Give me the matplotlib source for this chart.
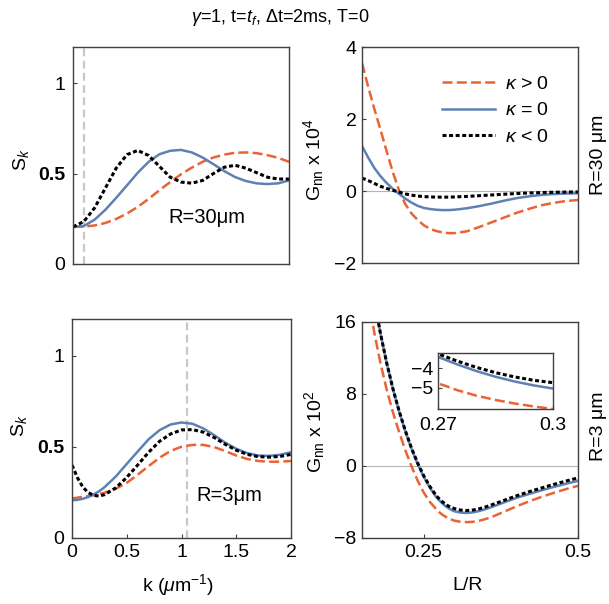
import matplotlib
matplotlib.use('Agg')
import matplotlib.pyplot as plt
import numpy as np

plt.rcParams['font.family'] = ['Liberation Sans', 'DejaVu Sans']
plt.rcParams['mathtext.fontset'] = 'custom'
plt.rcParams['mathtext.rm'] = 'Liberation Sans'
plt.rcParams['mathtext.it'] = 'Liberation Sans:italic'
plt.rcParams['mathtext.bf'] = 'Liberation Sans:bold'

# ---------------- data ----------------
# S_k, R = 30 um
k_top = [0.0, 0.1, 0.2, 0.3, 0.4, 0.5, 0.6, 0.7, 0.8, 0.9, 1.0,
         1.1, 1.2, 1.3, 1.4, 1.5, 1.6, 1.7, 1.8, 1.9, 2.0]
sk30_pos = [0.205, 0.207, 0.213, 0.227, 0.249, 0.279, 0.316, 0.36, 0.408, 0.453, 0.496,
            0.533, 0.565, 0.589, 0.605, 0.615, 0.617, 0.613, 0.602, 0.587, 0.565]
sk30_zero = [0.205, 0.21, 0.245, 0.30, 0.366, 0.435, 0.505, 0.565, 0.607, 0.626, 0.631,
             0.617, 0.589, 0.552, 0.514, 0.481, 0.459, 0.446, 0.442, 0.446, 0.462]
sk30_neg = [0.205, 0.235, 0.31, 0.42, 0.53, 0.605, 0.628, 0.60, 0.54, 0.48, 0.453,
            0.447, 0.462, 0.50, 0.535, 0.546, 0.53, 0.505, 0.48, 0.47, 0.47]

# S_k, R = 3 um
k_bot = [0.0, 0.05, 0.1, 0.15, 0.2, 0.25, 0.3, 0.4, 0.5, 0.6, 0.7, 0.8, 0.9, 1.0,
         1.1, 1.2, 1.3, 1.4, 1.5, 1.6, 1.7, 1.8, 1.9, 2.0]
sk3_pos = [0.217, 0.221, 0.226, 0.23, 0.235, 0.241, 0.248, 0.27, 0.302, 0.347, 0.394, 0.44, 0.477, 0.5,
           0.51, 0.51, 0.498, 0.476, 0.452, 0.433, 0.422, 0.418, 0.418, 0.422]
sk3_zero = [0.207, 0.209, 0.215, 0.225, 0.239, 0.257, 0.28, 0.337, 0.406, 0.474, 0.541, 0.591, 0.622, 0.633,
            0.626, 0.6, 0.563, 0.522, 0.489, 0.465, 0.452, 0.450, 0.456, 0.47]
sk3_neg = [0.40, 0.33, 0.278, 0.248, 0.233, 0.23, 0.238, 0.275, 0.332, 0.40, 0.47, 0.53, 0.57, 0.592,
           0.594, 0.58, 0.55, 0.513, 0.481, 0.458, 0.446, 0.443, 0.447, 0.458]

# G_nn x 10^4, R = 30 um
L_top = [0.15, 0.16, 0.17, 0.18, 0.19, 0.20, 0.21, 0.22, 0.23, 0.24, 0.25, 0.26, 0.27,
         0.28, 0.29, 0.30, 0.32, 0.34, 0.36, 0.38, 0.40, 0.42, 0.44, 0.46, 0.48, 0.50]
g30_pos = [3.55, 2.9, 2.28, 1.7, 1.1, 0.52, 0.02, -0.36, -0.62, -0.8, -0.95, -1.05, -1.11,
           -1.15, -1.17, -1.17, -1.12, -1.0, -0.87, -0.74, -0.61, -0.5, -0.4, -0.33, -0.28, -0.25]
g30_zero = [1.25, 0.93, 0.64, 0.41, 0.22, 0.06, -0.08, -0.21, -0.32, -0.41, -0.47, -0.5, -0.52,
            -0.53, -0.53, -0.52, -0.48, -0.42, -0.35, -0.27, -0.2, -0.15, -0.11, -0.085, -0.07, -0.065]
g30_neg = [0.36, 0.29, 0.21, 0.13, 0.07, 0.02, -0.03, -0.08, -0.115, -0.14, -0.155, -0.165, -0.17,
           -0.17, -0.17, -0.165, -0.15, -0.13, -0.11, -0.09, -0.07, -0.055, -0.045, -0.035, -0.03, -0.025]

# G_nn x 10^2, R = 3 um
L_bot = [0.15, 0.16, 0.17, 0.18, 0.19, 0.20, 0.21, 0.22, 0.23, 0.24, 0.25, 0.26, 0.27,
         0.275, 0.28, 0.285, 0.29, 0.295, 0.30, 0.31, 0.32, 0.33, 0.34, 0.35, 0.36,
         0.38, 0.40, 0.42, 0.44, 0.46, 0.48, 0.50]
g3_pos = [23.4, 18.8, 14.8, 11.4, 8.5, 6.0, 3.8, 1.8, 0.0, -1.6, -2.95, -4.0, -4.77,
          -5.12, -5.4, -5.62, -5.8, -5.95, -6.08, -6.2, -6.24, -6.2, -6.08, -5.9, -5.68,
          -5.08, -4.5, -3.95, -3.45, -3.0, -2.58, -2.2]
g3_zero = [27.4, 22.6, 18.4, 14.7, 11.45, 8.6, 6.1, 3.9, 1.95, 0.25, -1.2, -2.42, -3.43,
           -3.81, -4.15, -4.44, -4.68, -4.88, -5.04, -5.18, -5.22, -5.15, -5.0, -4.8, -4.56,
           -4.05, -3.55, -3.12, -2.72, -2.34, -1.98, -1.65]
g3_neg = [27.4, 22.6, 18.4, 14.7, 11.45, 8.62, 6.14, 3.96, 2.03, 0.35, -1.08, -2.28, -3.27,
          -3.64, -3.96, -4.23, -4.45, -4.62, -4.74, -4.9, -4.95, -4.89, -4.75, -4.55, -4.32,
          -3.82, -3.32, -2.87, -2.46, -2.06, -1.68, -1.32]

labels = [r'$\kappa$ > 0', r'$\kappa$ = 0', r'$\kappa$ < 0']
kline_top = np.pi / 30
kline_bot = np.pi / 3

# ---------------- style ----------------
RED = '#EB6235'
BLUE = '#5E81B5'
SPINE = '#404040'
styles = [dict(color=RED, lw=1.8, ls=(0, (4, 1.7))),
          dict(color=BLUE, lw=1.8, ls='-'),
          dict(color='black', lw=2.2, ls=(0, (1.3, 0.85)))]
FS = 14

fig = plt.figure(figsize=(6.09, 6.04), dpi=100)
W, H = 609.0, 604.0


def add_ax(x0, y0, x1, y1):
    return fig.add_axes([x0 / W, 1 - y1 / H, (x1 - x0) / W, (y1 - y0) / H])


def style_ax(ax, pad):
    for s in ax.spines.values():
        s.set_color(SPINE)
        s.set_linewidth(1.0)
    ax.tick_params(direction='in', length=3, width=0.8, color=SPINE,
                   labelsize=FS, pad=pad, top=False, right=False)


ax_tl = add_ax(73, 47, 289, 264)
ax_tr = add_ax(362, 47, 578, 263)
ax_bl = add_ax(72, 319, 291, 538)
ax_br = add_ax(362, 322, 578, 538)

# --- S_k panels ---
for ax, kk, ys, kl in [(ax_tl, k_top, [sk30_pos, sk30_zero, sk30_neg], kline_top),
                       (ax_bl, k_bot, [sk3_pos, sk3_zero, sk3_neg], kline_bot)]:
    ax.axvline(kl, color='#c8c8c8', lw=1.6, ls=(0, (3.5, 2)), zorder=1)
    for y, st in zip(ys, styles):
        ax.plot(kk, y, zorder=2, **st)
    ax.set_xlim(0, 2)
    ax.set_ylim(0, 1.2)
    ax.set_yticks([0, 0.5, 1], ['0', '0.5', '1'])
    ax.get_yticklabels()[1].set_fontweight('bold')
    style_ax(ax, 5.5)

ax_tl.set_xticks([])
ax_bl.set_xticks([0, 0.5, 1, 1.5, 2], ['0', '0.5', '1', '1.5', '2'])
ax_bl.tick_params(axis='x', pad=4)

ax_tl.set_ylabel(r'$\mathrm{S}_k$', fontsize=FS, va='center')
ax_tl.yaxis.set_label_coords(-0.241, 0.479)
ax_bl.set_ylabel(r'$\mathrm{S}_k$', fontsize=FS, va='center')
ax_bl.yaxis.set_label_coords(-0.242, 0.514)
ax_bl.set_xlabel(r'k ($\mu$m$^{-1}$)', fontsize=FS, va='center')
ax_bl.xaxis.set_label_coords(0.484, -0.215)

ax_tl.text(1.24, 0.256, 'R=30μm', fontsize=FS + 0.5, ha='center', va='center')
ax_bl.text(1.44, 0.233, 'R=3μm', fontsize=FS + 0.5, ha='center', va='center')

# --- G_nn panels ---
handles = []
for y, st in zip([g30_pos, g30_zero, g30_neg], styles):
    h, = ax_tr.plot(L_top, y, zorder=2, **st)
    handles.append(h)
for y, st in zip([g3_pos, g3_zero, g3_neg], styles):
    ax_br.plot(L_bot, y, zorder=2, **st)

for ax in (ax_tr, ax_br):
    ax.axhline(0, color='#b4b4b4', lw=0.8, zorder=1)
    ax.set_xlim(0.15, 0.5)
    style_ax(ax, 4)

ax_tr.set_ylim(-2, 4)
ax_tr.set_yticks([-2, 0, 2, 4], ['\u22122', '0', '2', '4'])
ax_tr.set_xticks([])
ax_br.set_ylim(-8, 16)
ax_br.set_yticks([-8, 0, 8, 16], ['\u22128', '0', '8', '16'])
ax_br.set_xticks([0.25, 0.5], ['0.25', '0.5'])
ax_br.tick_params(axis='x', pad=4)

ax_tr.set_ylabel(r'$\mathrm{G_{nn}}$ x 10$^4$', fontsize=FS, va='center')
ax_tr.yaxis.set_label_coords(-0.222, 0.479)
ax_br.set_ylabel(r'$\mathrm{G_{nn}}$ x 10$^2$', fontsize=FS, va='center')
ax_br.yaxis.set_label_coords(-0.218, 0.493)
ax_br.set_xlabel('L/R', fontsize=FS, va='center')
ax_br.xaxis.set_label_coords(0.491, -0.218)

ax_tr.text(1.093, 0.502, 'R=30 μm', rotation=90, fontsize=FS, ha='center', va='center',
           transform=ax_tr.transAxes)
ax_br.text(1.093, 0.516, 'R=3 μm', rotation=90, fontsize=FS, ha='center', va='center',
           transform=ax_br.transAxes)

ax_tr.legend(handles, labels, loc='upper left', bbox_to_anchor=(0.37, 0.868),
             frameon=False, fontsize=FS, handlelength=2.75, handletextpad=0.5,
             labelspacing=0.45, borderpad=0, borderaxespad=0)

# --- inset ---
ax_in = add_ax(438, 353, 553, 409)
for y, st in zip([g3_pos, g3_zero, g3_neg], styles):
    ax_in.plot(L_bot, y, zorder=2, **st)
ax_in.set_xlim(0.27, 0.30)
ax_in.set_ylim(-6.08, -3.23)
ax_in.set_yticks([-5, -4], ['\u22125', '\u22124'])
ax_in.set_xticks([0.27, 0.30], ['0.27', '0.3'])
style_ax(ax_in, 3.5)
ax_in.tick_params(axis='x', pad=5.5)

fig.text(280.5 / W, 1 - 17 / H, r'$\gamma$=1, t=$t_f$, Δt=2ms, T=0', fontsize=13,
         ha='center', va='center')

fig.savefig('out.png', dpi=100)
